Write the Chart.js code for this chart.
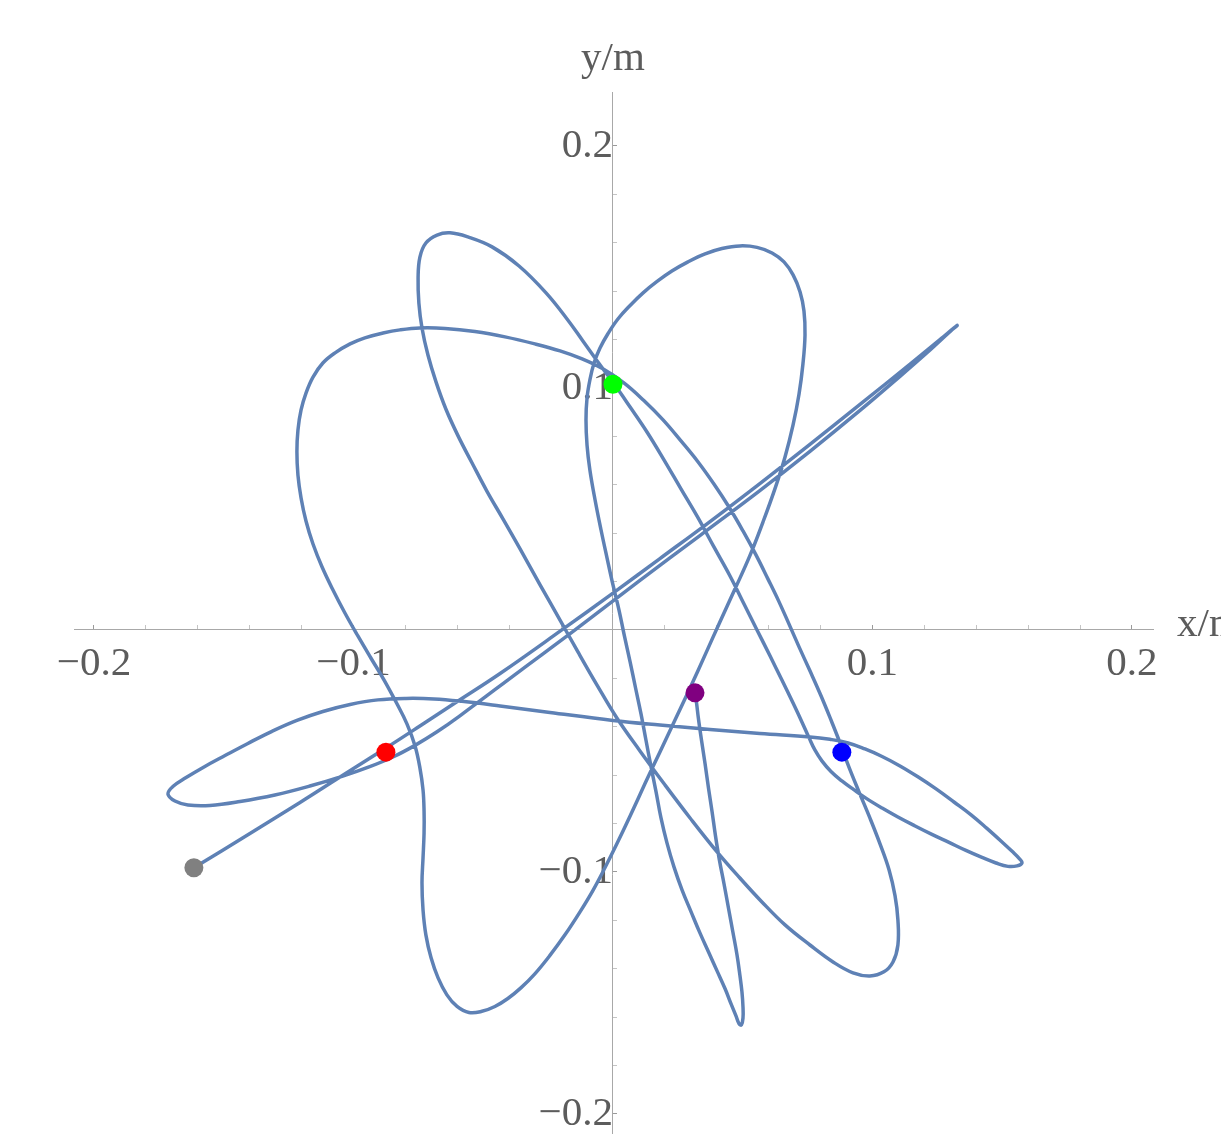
<!DOCTYPE html>
<html>
<head>
<meta charset="utf-8">
<title>Magnetic pendulum trajectory</title>
<script src="https://cdn.jsdelivr.net/npm/chart.js@4/dist/chart.umd.min.js"></script>
<style>
  html, body { margin: 0; padding: 0; background: #ffffff; }
  canvas { display: block; }
</style>
</head>
<body>
<canvas id="chart" width="1221" height="1134"></canvas>
<script>
// Bob position over time (metres), from release to the final sample.
// One row per stretch of the swing.
const pathX = [
  -0.1615, -0.1399, -0.1206, -0.1064, -0.0875, -0.0744, -0.0609, -0.0435, -0.0197, -0.0004,
  0.0181, 0.0374, 0.0566, 0.0759, 0.0952, 0.1145, 0.1260, 0.1326,
  0.1291, 0.1222, 0.1106, 0.0952, 0.0759, 0.0566, 0.0335, 0.0104, -0.0146, -0.0358,
  -0.0590, -0.0678, -0.0763, -0.0848, -0.0940, -0.1044, -0.1168, -0.1303, -0.1437, -0.1553,
  -0.1638, -0.1688, -0.1715,
  -0.1696, -0.1645, -0.1576, -0.1495, -0.1407, -0.1314, -0.1218, -0.1118, -0.1013, -0.0906,
  -0.0798, -0.0690, -0.0582, -0.0435, -0.0243, 0.0000, 0.0181, 0.0374, 0.0566, 0.0759,
  0.0836, 0.0906, 0.0971, 0.1037, 0.1106, 0.1175, 0.1245, 0.1314, 0.1380, 0.1441,
  0.1495, 0.1538, 0.1565, 0.1576, 0.1557, 0.1522, 0.1476, 0.1422, 0.1360, 0.1295,
  0.1229, 0.1164, 0.1098, 0.1037, 0.0979, 0.0929, 0.0882, 0.0840, 0.0805, 0.0778,
  0.0755, 0.0728, 0.0694, 0.0651, 0.0605, 0.0555,
  0.0505, 0.0451, 0.0389, 0.0328, 0.0262, 0.0197, 0.0131, 0.0066, 0.0004, -0.0058,
  -0.0116, -0.0177, -0.0258, -0.0362, -0.0466, -0.0559,
  -0.0628, -0.0678, -0.0721, -0.0744, -0.0751, -0.0748, -0.0736, -0.0713, -0.0682, -0.0644,
  -0.0597, -0.0543, -0.0486, -0.0424, -0.0358, -0.0281, -0.0204, -0.0135, -0.0062, 0.0015,
  0.0104, 0.0200, 0.0297, 0.0401, 0.0489, 0.0574, 0.0663, 0.0759, 0.0848, 0.0925,
  0.0990, 0.1044, 0.1079, 0.1098, 0.1098,
  0.1087, 0.1064, 0.1029, 0.0990, 0.0948, 0.0909, 0.0875, 0.0840, 0.0802, 0.0759,
  0.0717, 0.0678, 0.0640, 0.0597, 0.0551, 0.0501, 0.0447, 0.0389, 0.0328, 0.0262,
  0.0193, 0.0119, 0.0042, -0.0039, -0.0119, -0.0204, -0.0301, -0.0416, -0.0532, -0.0647,
  -0.0744, -0.0821, -0.0886, -0.0956, -0.1013, -0.1071, -0.1118, -0.1156, -0.1183, -0.1202,
  -0.1214,
  -0.1218, -0.1214, -0.1202, -0.1183, -0.1156, -0.1121, -0.1079, -0.1033, -0.0983, -0.0933,
  -0.0882, -0.0836, -0.0794, -0.0763, -0.0744, -0.0732, -0.0728, -0.0728, -0.0732, -0.0736,
  -0.0732, -0.0721, -0.0701, -0.0674, -0.0640, -0.0601, -0.0555, -0.0505, -0.0455, -0.0405,
  -0.0355, -0.0301, -0.0243, -0.0185, -0.0127, -0.0077, -0.0031, 0.0015, 0.0066, 0.0123,
  0.0181, 0.0239, 0.0297, 0.0355, 0.0412, 0.0470, 0.0528, 0.0578, 0.0624, 0.0663,
  0.0694, 0.0717, 0.0732, 0.0740, 0.0736, 0.0721, 0.0694, 0.0659, 0.0613, 0.0555,
  0.0489, 0.0420, 0.0355, 0.0289, 0.0227, 0.0170, 0.0116, 0.0066, 0.0019, -0.0019,
  -0.0050, -0.0073, -0.0089, -0.0100, -0.0104, -0.0100, -0.0089, -0.0069, -0.0046, -0.0023,
  0.0000, 0.0023, 0.0044, 0.0066, 0.0087, 0.0108, 0.0127, 0.0146, 0.0166, 0.0185,
  0.0208, 0.0235, 0.0266, 0.0301, 0.0335, 0.0370, 0.0401, 0.0432, 0.0455, 0.0474,
  0.0486, 0.0495, 0.0501, 0.0501, 0.0497, 0.0489, 0.0478, 0.0462, 0.0445, 0.0428,
  0.0410, 0.0395, 0.0382, 0.0368, 0.0355, 0.0341, 0.0329, 0.0322, 0.0316
];
const pathY = [
  -0.0983, -0.0841, -0.0713, -0.0616, -0.0488, -0.0397, -0.0302, -0.0180, 0.0000, 0.0149,
  0.0295, 0.0448, 0.0605, 0.0767, 0.0932, 0.1099, 0.1200, 0.1258,
  0.1225, 0.1157, 0.1048, 0.0907, 0.0738, 0.0576, 0.0390, 0.0205, 0.0000, -0.0169,
  -0.0355, -0.0421, -0.0477, -0.0525, -0.0566, -0.0605, -0.0645, -0.0682, -0.0709, -0.0725,
  -0.0723, -0.0707, -0.0678,
  -0.0647, -0.0610, -0.0566, -0.0519, -0.0469, -0.0419, -0.0374, -0.0337, -0.0308, -0.0289,
  -0.0283, -0.0285, -0.0295, -0.0314, -0.0341, -0.0374, -0.0393, -0.0411, -0.0428, -0.0442,
  -0.0452, -0.0467, -0.0492, -0.0523, -0.0562, -0.0607, -0.0657, -0.0711, -0.0764, -0.0820,
  -0.0872, -0.0915, -0.0944, -0.0963, -0.0975, -0.0977, -0.0963, -0.0940, -0.0911, -0.0878,
  -0.0845, -0.0810, -0.0773, -0.0736, -0.0698, -0.0661, -0.0624, -0.0585, -0.0541, -0.0496,
  -0.0444, -0.0380, -0.0302, -0.0207, -0.0107, 0.0000,
  0.0107, 0.0223, 0.0343, 0.0463, 0.0583, 0.0702, 0.0818, 0.0921, 0.1017, 0.1107,
  0.1194, 0.1285, 0.1393, 0.1504, 0.1583, 0.1624,
  0.1641, 0.1632, 0.1599, 0.1541, 0.1455, 0.1351, 0.1248, 0.1136, 0.1025, 0.0913,
  0.0802, 0.0690, 0.0574, 0.0459, 0.0335, 0.0186, 0.0041, -0.0091, -0.0227, -0.0364,
  -0.0500, -0.0640, -0.0777, -0.0917, -0.1025, -0.1124, -0.1219, -0.1302, -0.1372, -0.1417,
  -0.1430, -0.1413, -0.1372, -0.1302, -0.1198,
  -0.1099, -0.0992, -0.0884, -0.0777, -0.0669, -0.0566, -0.0467, -0.0372, -0.0273, -0.0169,
  -0.0070, 0.0025, 0.0116, 0.0211, 0.0310, 0.0409, 0.0508, 0.0603, 0.0694, 0.0781,
  0.0868, 0.0948, 0.1021, 0.1079, 0.1120, 0.1153, 0.1182, 0.1211, 0.1233, 0.1246,
  0.1248, 0.1240, 0.1227, 0.1207, 0.1182, 0.1145, 0.1103, 0.1045, 0.0979, 0.0909,
  0.0826,
  0.0736, 0.0640, 0.0545, 0.0450, 0.0355, 0.0260, 0.0165, 0.0070, -0.0025, -0.0116,
  -0.0207, -0.0298, -0.0388, -0.0479, -0.0570, -0.0661, -0.0748, -0.0839, -0.0942, -0.1045,
  -0.1157, -0.1260, -0.1355, -0.1438, -0.1508, -0.1556, -0.1581, -0.1576, -0.1556, -0.1523,
  -0.1479, -0.1421, -0.1345, -0.1260, -0.1165, -0.1076, -0.0983, -0.0884, -0.0769, -0.0636,
  -0.0504, -0.0372, -0.0240, -0.0103, 0.0033, 0.0169, 0.0308, 0.0446, 0.0583, 0.0715,
  0.0847, 0.0975, 0.1099, 0.1219, 0.1318, 0.1397, 0.1467, 0.1521, 0.1558, 0.1581,
  0.1587, 0.1576, 0.1554, 0.1521, 0.1483, 0.1440, 0.1393, 0.1341, 0.1285, 0.1225,
  0.1165, 0.1103, 0.1033, 0.0959, 0.0868, 0.0764, 0.0661, 0.0537, 0.0413, 0.0298,
  0.0186, 0.0083, -0.0025, -0.0132, -0.0240, -0.0347, -0.0455, -0.0562, -0.0669, -0.0777,
  -0.0880, -0.0979, -0.1074, -0.1165, -0.1252, -0.1335, -0.1409, -0.1483, -0.1545, -0.1595,
  -0.1628, -0.1632, -0.1603, -0.1558, -0.1496, -0.1426, -0.1343, -0.1248, -0.1149, -0.1050,
  -0.0950, -0.0851, -0.0752, -0.0653, -0.0554, -0.0455, -0.0364, -0.0302, -0.0260
];

// Magnet positions (metres) and their colours
const magnetX = [-0.0875, 0.0000, 0.0882];
const magnetY = [-0.0505, 0.1015, -0.0505];
const magnetColors = ['#ff0000', '#00ff00', '#0000ff'];

// Axis ranges
const xRange = [-0.2077, 0.2081];
const yRange = [-0.2083, 0.2223];

// Tick positions and labels
const xMajorTicks = [-0.2, -0.1, 0.1, 0.2];
const xTickLabels = ['\u22120.2', '\u22120.1', '0.1', '0.2'];
const xMinorTicks = [-0.18, -0.16, -0.14, -0.12, -0.08, -0.06, -0.04, -0.02,
                     0.02, 0.04, 0.06, 0.08, 0.12, 0.14, 0.16, 0.18];
const yMajorTicks = [-0.2, -0.1, 0.1, 0.2];
const yTickLabels = ['\u22120.2', '\u22120.1', '0.1', '0.2'];
const yMinorTicks = [-0.18, -0.16, -0.14, -0.12, -0.08, -0.06, -0.04, -0.02,
                     0.02, 0.04, 0.06, 0.08, 0.12, 0.14, 0.16, 0.18];

const axisTitles = { x: 'x/m', y: 'y/m' };

const LINE_BLUE = '#5e81b5';
const TEXT_GREY = '#5c5c5c';
const AXIS_GREY = '#a8a8a8';
const SERIF = "'Liberation Serif', 'Times New Roman', serif";
const FONT_SIZE = 41;

const nPts = Math.min(pathX.length, pathY.length);
const trajectory = [];
for (let i = 0; i < nPts; i++) trajectory.push({ x: pathX[i], y: pathY[i] });
const last = nPts - 1;

function labelFor(value, majors, labels) {
  for (let i = 0; i < majors.length; i++) {
    if (Math.abs(majors[i] - value) < 1e-9) return labels[i];
  }
  return '';
}
function isMajor(value, majors) {
  return majors.some(m => Math.abs(m - value) < 1e-9);
}
function tickSet(majors, minors) {
  return majors.concat(minors).sort((a, b) => a - b).map(v => ({ value: v }));
}
// Axes cross at the origin, so they must not claim any room around the plot
function collapse(scale) {
  if (scale.isHorizontal()) scale.height = 0; else scale.width = 0;
  scale.paddingTop = 0;
  scale.paddingBottom = 0;
  scale.paddingLeft = 0;
  scale.paddingRight = 0;
}

// Axis titles placed past the end of each axis
const axisTitlePlugin = {
  id: 'axisTitles',
  afterDraw(chart) {
    const xs = chart.scales.x, ys = chart.scales.y;
    const ctx = chart.ctx;
    const x0 = xs.getPixelForValue(0);
    const y0 = ys.getPixelForValue(0);
    ctx.save();
    ctx.fillStyle = TEXT_GREY;
    ctx.font = FONT_SIZE + 'px ' + SERIF;
    ctx.textBaseline = 'alphabetic';
    ctx.textAlign = 'left';
    ctx.fillText(axisTitles.x, xs.right + 24, y0 + 6);
    ctx.textAlign = 'center';
    ctx.fillText(axisTitles.y, x0, ys.top - 22);
    ctx.restore();
  }
};

const pointStyle = (color) => ({
  backgroundColor: color,
  borderWidth: 0,
  pointRadius: 9.5,
  pointHoverRadius: 9.5,
  clip: false,
  order: 0
});

const datasets = [
  Object.assign({ label: 'start', data: [{ x: pathX[0], y: pathY[0] }] }, pointStyle('#808080')),
  Object.assign({ label: 'end', data: [{ x: pathX[last], y: pathY[last] }] }, pointStyle('#800080'))
];
magnetX.forEach((mx, i) => {
  datasets.push(Object.assign({ label: 'magnet ' + (i + 1), data: [{ x: mx, y: magnetY[i] }] },
    pointStyle(magnetColors[i])));
});
datasets.push({
  label: 'trajectory',
  data: trajectory,
  showLine: true,
  borderColor: LINE_BLUE,
  borderWidth: 3.5,
  pointRadius: 0,
  pointHoverRadius: 0,
  tension: 0.4,
  fill: false,
  order: 1
});

new Chart(document.getElementById('chart'), {
  type: 'scatter',
  data: { datasets: datasets },
  plugins: [axisTitlePlugin],
  options: {
    responsive: false,
    animation: false,
    events: [],
    layout: { autoPadding: false, padding: { left: 74, right: 68, top: 92, bottom: 0 } },
    plugins: { legend: { display: false }, tooltip: { enabled: false } },
    scales: {
      x: {
        type: 'linear',
        min: xRange[0],
        max: xRange[1],
        position: { y: 0 },
        afterFit: collapse,
        afterBuildTicks(scale) { scale.ticks = tickSet(xMajorTicks, xMinorTicks); },
        grid: {
          drawOnChartArea: false,
          drawTicks: true,
          tickLength: -5,
          tickWidth: 1,
          tickColor: (c) => isMajor(c.tick ? c.tick.value : 0, xMajorTicks) ? '#9a9a9a' : '#c4c4c4'
        },
        border: { display: true, color: AXIS_GREY, width: 1 },
        ticks: {
          autoSkip: false,
          maxRotation: 0,
          minRotation: 0,
          padding: 15,
          color: TEXT_GREY,
          font: { family: SERIF, size: FONT_SIZE },
          callback: (v) => labelFor(v, xMajorTicks, xTickLabels)
        }
      },
      y: {
        type: 'linear',
        min: yRange[0],
        max: yRange[1],
        position: { x: 0 },
        afterFit: collapse,
        afterBuildTicks(scale) { scale.ticks = tickSet(yMajorTicks, yMinorTicks); },
        grid: {
          drawOnChartArea: false,
          drawTicks: true,
          tickLength: -5,
          tickWidth: 1,
          tickColor: (c) => isMajor(c.tick ? c.tick.value : 0, yMajorTicks) ? '#9a9a9a' : '#c4c4c4'
        },
        border: { display: true, color: AXIS_GREY, width: 1 },
        ticks: {
          autoSkip: false,
          padding: 25,
          color: TEXT_GREY,
          font: { family: SERIF, size: FONT_SIZE },
          callback: (v) => labelFor(v, yMajorTicks, yTickLabels)
        }
      }
    }
  }
});
</script>
</body>
</html>
